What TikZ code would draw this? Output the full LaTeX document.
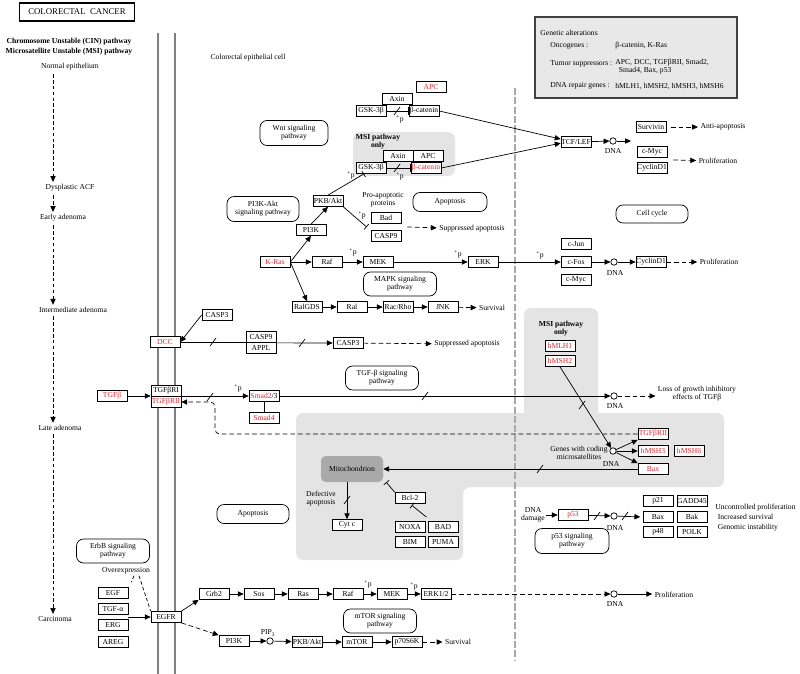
\documentclass[tikz,border=0pt]{standalone}
\usepackage{fontspec}
\setmainfont{Liberation Serif}
\usetikzlibrary{arrows.meta,positioning,calc}
\definecolor{kred}{HTML}{E0262E}
\definecolor{zone}{HTML}{E4E4E4}
\definecolor{mitogray}{HTML}{A9A9A9}
\definecolor{membrane}{HTML}{7F7F7F}
\definecolor{cellwall}{HTML}{A8A8A8}
\definecolor{legendbg}{HTML}{E8E8E8}
\newcommand{\kfont}{\fontsize{6.5}{7}\selectfont}
\newcommand{\plusp}{\textsuperscript{+}p}
\tikzset{
  genebox/.style={rectangle, draw=black, line width=0.6pt, fill=white,
    minimum width=0.9cm, minimum height=0.33cm, inner sep=0pt, font=\kfont},
  mutbox/.style={genebox, text=kred},
  pathbox/.style={rectangle, rounded corners=6pt, draw=black, line width=0.6pt,
    fill=white, minimum width=2.19cm, minimum height=0.72cm,
    font=\kfont, align=center, inner sep=1pt},
  txt/.style={font=\kfont, align=center, inner sep=1pt},
  dnacirc/.style={circle, draw=black, line width=0.6pt, fill=white,
    minimum size=5.5pt, inner sep=0pt},
  actarrow/.style={-{Triangle[length=5pt,width=4.5pt]}, line width=0.6pt},
  dasharrow/.style={actarrow, dash pattern=on 4pt off 2.5pt},
  inharrow/.style={-{Bar[width=6pt]}, line width=0.6pt},
  dashline/.style={line width=0.6pt, dash pattern=on 3pt off 2pt},
  stagearrow/.style={-{Triangle[length=5pt,width=4.5pt]}, line width=0.6pt,
    dash pattern=on 3pt off 2pt, shorten <=2pt, shorten >=1pt},
  cutmark/.pic={\draw[line width=0.6pt] (-3,4) -- (3,-4);},
}

\begin{document}
\begin{tikzpicture}[x=0.03cm, y=-0.03cm]
  \useasboundingbox[fill=white] (0,0) rectangle (800,674);
  % shaded regions
  \fill[zone, rounded corners=6pt] (353,132) rectangle (455,176);
  \fill[zone, rounded corners=6pt] (524,308) rectangle (598,430);
  \fill[zone, rounded corners=6pt] (296,413) -- (724,413) -- (724,487)
    -- (463,487) -- (463,560) -- (296,560) -- cycle;
  % membrane and cell border
  \draw[membrane, line width=2pt] (158,33) -- (158,674);
  \draw[membrane, line width=2pt] (175,33) -- (175,674);
  \draw[cellwall, line width=2.5pt, dash pattern=on 6pt off 2pt] (515,88) -- (515,660);

  % title and stages
  \node[draw=black, line width=0.9pt, minimum width=3.45cm, minimum height=0.54cm,
    font=\fontsize{7.5}{8}\selectfont] (title) at (77,12) {COLORECTAL\enspace CANCER};
  \node[txt, font=\kfont\bfseries] (cin) at (69,42) {Chromosome Unstable (CIN) pathway};
  \node[txt, font=\kfont\bfseries] (msi) at (69,52) {Microsatellite Unstable (MSI) pathway};
  \node[txt] (normal) at (70,67) {Normal epithelium};
  \node[txt] (acf) at (70,188) {Dysplastic ACF};
  \node[txt] (early) at (63,218) {Early adenoma};
  \node[txt] (inter) at (73,310) {Intermediate adenoma};
  \node[txt] (late) at (60,428) {Late adenoma};
  \node[txt] (carc) at (55,619) {Carcinoma};
  \coordinate (stage) at (53,0);
  \draw[stagearrow] (normal.south -| stage) -- (acf.north -| stage);
  \draw[stagearrow] (acf.south -| stage) -- (early.north -| stage);
  \draw[stagearrow] (early.south -| stage) -- (inter.north -| stage);
  \draw[stagearrow] (inter.south -| stage) -- (late.north -| stage);
  \draw[stagearrow] (late.south -| stage) -- (carc.north -| stage);
  \node[txt] (cell) at (248,58) {Colorectal epithelial cell};

  % legend
  \node[draw=black!75, line width=1pt, fill=legendbg, minimum width=6.06cm,
    minimum height=2.43cm] (legend) at (636,57.5) {};
  \node[txt, anchor=west] (galt) at (539,33) {Genetic alterations};
  \node[txt, anchor=west] (onco) at (549,46) {Oncogenes :};
  \node[txt, anchor=west] (oncol) at (614,46) {β-catenin, K-Ras};
  \node[txt, anchor=west] (tsup) at (549,64) {Tumor suppressors :};
  \node[txt, anchor=west, align=left] (tsupl) at (614,67) {APC, DCC, TGFβRII, Smad2,\\\hspace{3pt}Smad4, Bax, p53};
  \node[txt, anchor=west] (dnar) at (549,86) {DNA repair genes :};
  \node[txt, anchor=west] (dnarl) at (614,86) {hMLH1, hMSH2, hMSH3, hMSH6};

  % Wnt
  \node[mutbox] (apc1) at (431,87) {APC};
  \node[genebox] (axin1) at (397,99) {Axin};
  \node[genebox] (gsk1) at (371,111) {GSK-3β};
  \node[genebox] (bcat1) at (424,111) {β-catenin};
  \draw[inharrow] (gsk1) -- (bcat1);
  \pic at (397,111) {cutmark};
  \node[txt] (p1) at (400,119) {\plusp};
  \node[pathbox, minimum width=2.04cm, minimum height=0.75cm] (wnt) at (294,133) {Wnt signaling\\pathway};
  \node[txt, font=\kfont\bfseries] (msiw) at (378,142) {MSI pathway\\only};
  \node[genebox] (axin2) at (398,156) {Axin};
  \node[genebox] (apc2) at (428,156) {APC};
  \node[genebox] (gsk2) at (371,168) {GSK-3β};
  \node[mutbox] (bcat2) at (426,168) {β-catenin};
  \draw[inharrow] (gsk2) -- (bcat2);
  \pic at (397,168) {cutmark};
  \node[txt] (p2) at (400,176) {\plusp};
  \node[txt] (p3) at (351,175) {\plusp};
  \node[genebox] (tcf) at (576,142) {TCF/LEF};
  \draw[actarrow] (bcat1.east) -- ([yshift=2.5pt]tcf.west);
  \draw[actarrow] (bcat2.east) -- ([yshift=-1pt]tcf.west);
  \node[dnacirc] (dna1) at (613,141) {};
  \node[txt] (dna1l) at (613,151) {DNA};
  \coordinate (dna1e) at (631,141);
  \draw[actarrow] (tcf) -- (dna1);
  \draw[actarrow] (dna1) -- (dna1e);
  \node[genebox] (survivin) at (651,127) {Survivin};
  \node[genebox] (cmyc1) at (652,152) {c-Myc};
  \node[genebox] (cycd1) at (652,168) {CyclinD1};
  \node[txt, inner sep=2pt] (antiapo) at (723,127) {Anti-apoptosis};
  \node[txt, inner sep=2pt] (prolif1) at (718,161) {Proliferation};
  \draw[dasharrow] ([xshift=4pt]survivin.east) -- (antiapo);
  \draw[dasharrow] ($(cmyc1.south east)!.5!(cycd1.north east)+(6,0)$) -- (prolif1);
  \node[pathbox, minimum width=2.16cm, minimum height=0.54cm] (cellcyc) at (652,214) {Cell cycle};

  % PI3K-Akt
  \node[pathbox, minimum width=2.16cm, minimum height=0.75cm] (pi3kakt) at (263,209) {PI3K-Akt\\signaling pathway};
  \node[genebox] (pkb1) at (328,201) {PKB/Akt};
  \node[genebox] (pi3k1) at (311,230) {PI3K};
  \node[txt] (proapo) at (383,200) {Pro-apoptotic\\proteins};
  \node[genebox] (bad) at (386,218) {Bad};
  \node[genebox] (casp9a) at (386,236) {CASP9};
  \node[pathbox, minimum width=2.22cm, minimum height=0.57cm] (apo1) at (450,202) {Apoptosis};
  \draw[inharrow] (pkb1.north) -- ([xshift=-6pt]gsk2.south);
  \draw[inharrow] (pkb1.south east) -- ($(bad.south west)!.5!(casp9a.north west)+(-4,0)$);
  \node[txt] (p4) at (362,215) {\plusp};
  \node[txt, inner sep=2pt] (supapo1) at (472,229) {Suppressed apoptosis};
  \draw[dasharrow] ($(bad.south east)!.5!(casp9a.north east)+(6,0)$) -- (supapo1);

  % K-Ras / MAPK
  \node[mutbox] (kras) at (275,262) {K-Ras};
  \node[genebox] (raf1) at (327,262) {Raf};
  \node[genebox] (mek1) at (378,262) {MEK};
  \node[genebox] (erk) at (483,262) {ERK};
  \node[genebox] (cjun) at (576,244) {c-Jun};
  \node[genebox] (cfos) at (576,262) {c-Fos};
  \node[genebox] (cmyc2) at (576,280) {c-Myc};
  \draw[actarrow] (kras.east) -- (pi3k1.south);
  \draw[actarrow] (pi3k1.north) -- (pkb1.south);
  \draw[actarrow] (kras) -- (raf1);
  \draw[actarrow] (raf1) -- (mek1);
  \draw[actarrow] (mek1) -- (erk);
  \draw[actarrow] (erk) -- (cfos);
  \node[txt] (p5) at (353,252) {\plusp};
  \node[txt] (p6) at (458,254) {\plusp};
  \node[txt] (p7) at (540,255) {\plusp};
  \node[dnacirc] (dna2) at (614,262) {};
  \node[txt] (dna2l) at (615,273) {DNA};
  \node[genebox] (cycd2) at (651,262) {CyclinD1};
  \node[txt, inner sep=2pt] (prolif2) at (719,262) {Proliferation};
  \draw[actarrow] (cfos) -- (dna2);
  \draw[actarrow] (dna2) -- (cycd2);
  \draw[dasharrow] (cycd2) -- (prolif2);
  \node[pathbox] (mapk) at (400,284) {MAPK signaling\\pathway};
  \node[genebox] (ralgds) at (307,307) {RalGDS};
  \node[genebox] (ral) at (352,307) {Ral};
  \node[genebox] (racrho) at (398,307) {Rac/Rho};
  \node[genebox] (jnk) at (443,307) {JNK};
  \node[txt, inner sep=2pt] (surv1) at (492,308) {Survival};
  \draw[actarrow] (kras.east) -- (ralgds.north);
  \draw[actarrow] (ralgds) -- (ral);
  \draw[actarrow] (ral) -- (racrho);
  \draw[actarrow] (racrho) -- (jnk);
  \draw[dasharrow] (jnk) -- (surv1);

  % DCC
  \node[genebox] (casp3a) at (217,315) {CASP3};
  \node[mutbox] (dcc) at (165,342) {DCC};
  \node[genebox] (casp9b) at (261,337) {CASP9};
  \node[genebox] (appl) at (261,348) {APPL};
  \node[genebox] (casp3b) at (348,343) {CASP3};
  \node[txt, inner sep=2pt] (supapo2) at (467,344) {Suppressed apoptosis};
  \draw[actarrow] (casp3a.west) -- (dcc.east);
  \draw[line width=0.6pt] (dcc.east) -- (dcc.east -| casp9b.west);
  \pic at (213,342) {cutmark};
  \draw[actarrow] (casp9b.south east) -- (casp3b.west);
  \pic at (302,343) {cutmark};
  \draw[dasharrow] (casp3b) -- (supapo2);

  % TGF-beta
  \node[mutbox] (tgfb) at (112,396) {TGFβ};
  \node[genebox] (tgfbr1) at (166,391) {TGFβRI};
  \node[mutbox] (tgfbr2) at (166,402) {TGFβRII};
  \node[genebox] (smad23) at (264,396) {\textcolor{kred}{Smad2}/3};
  \node[mutbox] (smad4) at (264,418) {Smad4};
  \draw[actarrow] (tgfb.east) -- (tgfb.east -| tgfbr1.west);
  \draw[actarrow] (tgfb.east -| tgfbr1.east) -- (smad23.west);
  \draw[line width=0.6pt] (smad23) -- (smad4);
  \node[txt] (p8) at (238,388) {\plusp};
  \pic at (210,397) {cutmark};
  \node[pathbox] (tgfpath) at (382,378) {TGF-β signaling\\pathway};
  \node[dnacirc] (dna3) at (614,396) {};
  \node[txt] (dna3l) at (615,406) {DNA};
  \draw[actarrow] (smad23) -- (dna3);
  \pic at (425,396) {cutmark};
  \node[txt, inner sep=2pt] (lossl) at (697,394) {Loss of growth inhibitory\\effects of TGFβ};
  \draw[dasharrow] (dna3) -- (lossl.west |- dna3);

  % MSI target genes
  \node[txt, font=\kfont\bfseries] (msir) at (561,329) {MSI pathway\\only};
  \node[mutbox] (hmlh1) at (560,346) {hMLH1};
  \node[mutbox] (hmsh2) at (560,361) {hMSH2};
  \node[dnacirc] (dna4) at (613,451) {};
  \node[txt, anchor=east] (genes) at (609,453) {Genes with coding\\microsatellites};
  \node[txt] (dna4l) at (611,464) {DNA};
  \node[mutbox] (tgfbr2r) at (653,434) {TGFβRII};
  \node[mutbox] (hmsh3) at (653,451) {hMSH3};
  \node[mutbox] (hmsh6) at (689,451) {hMSH6};
  \node[mutbox] (bax1) at (653,469) {Bax};
  \draw[actarrow] (hmsh2.south) -- (dna4);
  \pic at (582,405) {cutmark};
  \draw[actarrow] (dna4) -- (tgfbr2r.south west);
  \draw[actarrow] (dna4) -- (hmsh3.west);
  \draw[actarrow] (dna4) -- (bax1.north west);
  \coordinate (kink) at (215,0);
  \draw[dasharrow, rounded corners=4pt] (tgfbr2r.west) -- (tgfbr2r.west -| kink) |- (tgfbr2.east);

  % mitochondrion
  \node[rounded corners=4pt, fill=mitogray, minimum width=1.86cm, minimum height=0.78cm,
    font=\kfont] (mito) at (352,469) {Mitochondrion};
  \draw[actarrow] (bax1.west) -- (bax1.west -| mito.east);
  \pic at (540,469) {cutmark};
  \node[genebox] (cytc) at (347,525) {Cyt c};
  \draw[actarrow] (mito.south -| cytc) -- (cytc);
  \pic at (347,500) {cutmark};
  \node[txt] (defapo) at (321,499) {Defective\\apoptosis};
  \node[genebox] (bcl2) at (410,498) {Bcl-2};
  \draw[inharrow] (bcl2.north west) -- ($(mito.south east)+(3,0)$);
  \node[genebox] (noxa) at (410,527) {NOXA};
  \node[genebox] (bad2) at (443,527) {BAD};
  \node[genebox] (bim) at (410,542) {BIM};
  \node[genebox] (puma) at (443,542) {PUMA};
  \draw[inharrow, shorten >=2pt] ($(noxa.north east)!.5!(bad2.north west)+(0,-4)$) -- (bcl2.south);
  \node[pathbox, minimum width=2.16cm, minimum height=0.57cm] (apo2) at (253,514) {Apoptosis};

  % p53
  \node[txt] (dnadmg) at (533,515) {DNA\\damage};
  \node[mutbox] (p53) at (573,515) {p53};
  \node[dnacirc] (dna5) at (614,516) {};
  \node[txt] (dna5l) at (615,528) {DNA};
  \draw[actarrow] (dnadmg) -- (p53);
  \draw[actarrow] (p53) -- (dna5);
  \pic at (597,516) {cutmark};
  \node[genebox] (p21) at (658,501) {p21};
  \node[genebox] (gadd) at (692,501) {GADD45};
  \node[genebox] (bax2) at (658,517) {Bax};
  \node[genebox] (bak) at (692,517) {Bak};
  \node[genebox] (p48) at (658,532) {p48};
  \node[genebox] (polk) at (692,532) {POLK};
  \draw[actarrow, shorten >=2pt] (dna5) -- (bax2.west);
  \pic at (625,516) {cutmark};
  \node[txt, anchor=west, align=left, font=\fontsize{6.5}{8.5}\selectfont] (outcome) at (714,518)
    {Uncontrolled proliferation\\\hspace{2pt}Increased survival\\\hspace{2pt}Genomic instability};
  \node[pathbox, minimum width=2.22cm, minimum height=0.75cm] (p53path) at (572,541) {p53 signaling\\pathway};

  % EGFR
  \node[pathbox] (erbb) at (113,551) {ErbB signaling\\pathway};
  \node[txt] (overexp) at (126,571) {Overexpression};
  \node[genebox] (egf) at (113,593) {EGF};
  \node[genebox] (tgfa) at (113,609) {TGF-α};
  \node[genebox] (erg) at (113,625) {ERG};
  \node[genebox] (areg) at (113,642) {AREG};
  \node[genebox] (egfr) at (166,617) {EGFR};
  \draw[dashline] ($(overexp.south)+(8,0)$) -- ($(egf.north east)+(3,-5)$);
  \draw[dashline] ($(overexp.south)+(13,0)$) -- (egfr.north west);
  \draw[actarrow] ($(tgfa.south east)!.5!(erg.north east)$) -- (egfr.west);
  \node[genebox] (grb2) at (214,594) {Grb2};
  \node[genebox] (sos) at (259,594) {Sos};
  \node[genebox] (ras) at (303,594) {Ras};
  \node[genebox] (raf2) at (348,594) {Raf};
  \node[genebox] (mek2) at (392,594) {MEK};
  \node[genebox] (erk12) at (436,594) {ERK1/2};
  \draw[actarrow] (egfr.north east) -- (grb2.south west);
  \draw[actarrow] (grb2) -- (sos);
  \draw[actarrow] (sos) -- (ras);
  \draw[actarrow] (ras) -- (raf2);
  \draw[actarrow] (raf2) -- (mek2);
  \draw[actarrow] (mek2) -- (erk12);
  \node[txt] (p9) at (368,584) {\plusp};
  \node[txt] (p10) at (414,586) {\plusp};
  \node[dnacirc] (dna6) at (614,594) {};
  \node[txt] (dna6l) at (615,604) {DNA};
  \node[txt, inner sep=2pt] (prolif3) at (674,595) {Proliferation};
  \draw[dasharrow] (erk12) -- (dna6);
  \draw[actarrow] (dna6) -- (prolif3.west |- dna6);
  \node[pathbox] (mtorpath) at (380,621) {mTOR signaling\\pathway};
  \node[genebox] (pi3k2) at (234,641) {PI3K};
  \node[dnacirc] (pip3) at (270,641) {};
  \node[txt] (pip3l) at (268,633) {PIP\textsubscript{3}};
  \node[genebox] (pkb2) at (307,642) {PKB/Akt};
  \node[genebox] (mtor) at (357,642) {mTOR};
  \node[genebox] (p70) at (407,642) {p70S6K};
  \node[txt, inner sep=2pt] (surv2) at (458,642) {Survival};
  \draw[dasharrow] (egfr.south east) -- (pi3k2.north west);
  \draw[actarrow] (pi3k2) -- (pip3);
  \draw[actarrow] (pip3) -- (pkb2);
  \draw[actarrow] (pkb2) -- (mtor);
  \draw[actarrow] (mtor) -- (p70);
  \draw[dasharrow] (p70) -- (surv2);
\end{tikzpicture}
\end{document}
